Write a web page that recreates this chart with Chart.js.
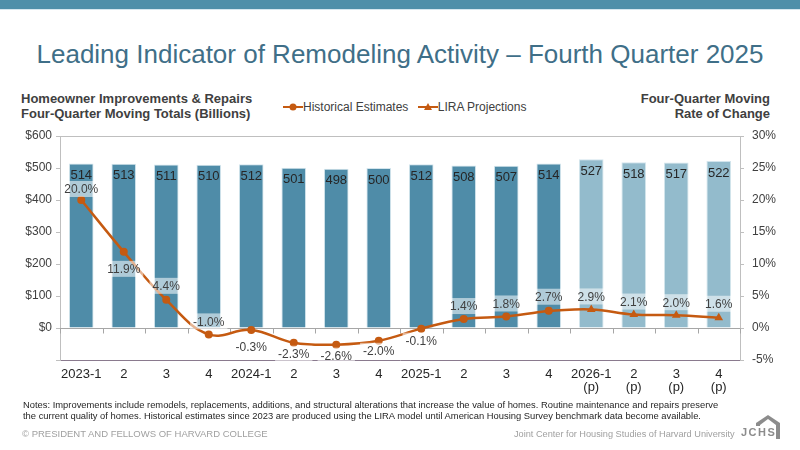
<!DOCTYPE html>
<html>
<head>
<meta charset="utf-8">
<script src="https://cdn.jsdelivr.net/npm/chart.js@4.4.1/dist/chart.umd.min.js"></script>
<style>
  body { margin: 0; width: 800px; height: 450px; background: #fff; font-family: "Liberation Sans", Arial, sans-serif; overflow: hidden; position: relative; }
  #topbar { position: absolute; left: 0; top: 0; width: 800px; height: 9px; background: #4f8fa9; border-bottom: 1px solid #d5e6ee; }
  #title { position: absolute; left: 0; top: 39px; width: 800px; text-align: center; font-size: 26px; color: #3f6f88; }
  .axtitle { position: absolute; top: 91px; font-size: 13px; font-weight: bold; color: #404040; line-height: 15px; }
  #legend { position: absolute; left: 283px; top: 100px; font-size: 12px; color: #404040; white-space: nowrap; }
  #legend svg { vertical-align: -1px; }
  #wrap { position: absolute; left: 0; top: 120px; width: 800px; height: 296px; }
  #notes { position: absolute; left: 23px; top: 399px; font-size: 9.4px; color: #262626; line-height: 11px; }
  #copy { position: absolute; left: 22px; top: 428px; font-size: 9.5px; color: #a0a0a0; }
  #jc { position: absolute; left: 514px; top: 429px; font-size: 9.2px; color: #a0a0a0; }
  #logo { position: absolute; left: 739px; top: 414px; }
</style>
</head>
<body>
<div id="topbar"></div>
<div id="title">Leading Indicator of Remodeling Activity – Fourth Quarter 2025</div>
<div class="axtitle" style="left:21px">Homeowner Improvements &amp; Repairs<br>Four-Quarter Moving Totals (Billions)</div>
<div class="axtitle" style="right:30px;text-align:right">Four-Quarter Moving<br>Rate of Change</div>
<div id="legend">
  <svg width="20" height="10"><line x1="0" y1="5" x2="20" y2="5" stroke="#c55a11" stroke-width="2"/><circle cx="10" cy="5" r="3.5" fill="#c55a11"/></svg>Historical Estimates
  <svg width="20" height="10" style="margin-left:6px"><line x1="0" y1="5" x2="20" y2="5" stroke="#c55a11" stroke-width="2"/><polygon points="10,1 14,8 6,8" fill="#c55a11"/></svg>LIRA Projections
</div>
<div id="wrap"><canvas id="chart"></canvas></div>
<div id="notes">Notes: Improvements include remodels, replacements, additions, and structural alterations that increase the value of homes. Routine maintenance and repairs preserve<br>the current quality of homes. Historical estimates since 2023 are produced using the LIRA model until American Housing Survey benchmark data become available.</div>
<div id="copy">© PRESIDENT AND FELLOWS OF HARVARD COLLEGE</div>
<div id="jc">Joint Center for Housing Studies of Harvard University</div>
<svg id="logo" width="44" height="26">
  <polygon points="17,9 29,1 41,9 41,25 37,25 37,11 29,5 21,11 21,12 17,12" fill="#8c8c8c"/>
  <text x="2" y="22" font-family="Liberation Sans, Arial" font-size="11" font-weight="bold" fill="#8c8c8c" letter-spacing="1.5">JCHS</text>
</svg>

<script>
const quarters = ['2023-1', '2', '3', '4', '2024-1', '2', '3', '4', '2025-1', '2', '3', '4',
  ['2026-1', '(p)'], ['2', '(p)'], ['3', '(p)'], ['4', '(p)']];
const spending = [514, 513, 511, 510, 512, 501, 498, 500, 512, 508, 507, 514, 527, 518, 517, 522];
const historical = [20.0, 11.9, 4.4, -1.0, -0.3, -2.3, -2.6, -2.0, -0.1, 1.4, 1.8, 2.7, null, null, null, null];
const projections = [null, null, null, null, null, null, null, null, null, null, null, 2.7, 2.9, 2.1, 2.0, 1.6];
const isProjection = [false, false, false, false, false, false, false, false, false, false, false, false, true, true, true, true];

const orange = '#c55a11';

// where each rate label sits relative to its point (px, negative = above)
const rateLabelOffset = [-11, 17, -14, -13, 17, 11, 11, 10, 12, -13, -13, -14, -13, -13, -13, -14];

const labelPlugin = {
  id: 'labels',
  beforeDatasetsDraw(chart) {
    const ctx = chart.ctx, a = chart.chartArea;
    const x = chart.scales.x, y = chart.scales.y;
    ctx.save();
    ctx.strokeStyle = '#bfbfbf';
    ctx.lineWidth = 1;
    ctx.beginPath();
    ctx.moveTo(a.left, a.top + 0.5);
    ctx.lineTo(a.right, a.top + 0.5);
    ctx.stroke();
    // zero line with ticks between quarters
    const y0 = Math.round(y.getPixelForValue(0)) + 0.5;
    const step = x.getPixelForValue(1) - x.getPixelForValue(0);
    ctx.strokeStyle = '#a6a6a6';
    ctx.beginPath();
    ctx.moveTo(a.left, y0);
    ctx.lineTo(a.right, y0);
    for (let i = 0; i <= quarters.length; i++) {
      const bx = Math.round(x.getPixelForValue(i) - step / 2) + 0.5;
      ctx.moveTo(bx, y0);
      ctx.lineTo(bx, y0 + 5);
    }
    ctx.stroke();
    ctx.restore();
  },
  afterDatasetsDraw(chart) {
    const ctx = chart.ctx;
    ctx.save();
    ctx.textAlign = 'center';
    ctx.textBaseline = 'middle';
    // bar values
    ctx.font = '13px "Liberation Sans", Arial';
    ctx.fillStyle = '#262626';
    chart.getDatasetMeta(0).data.forEach((bar, i) => {
      ctx.fillText(spending[i], bar.x, bar.y + 12);
    });
    // rate labels
    const histMeta = chart.getDatasetMeta(1).data;
    const projMeta = chart.getDatasetMeta(2).data;
    ctx.font = '12px "Liberation Sans", Arial';
    quarters.forEach((q, i) => {
      const v = historical[i] != null ? historical[i] : projections[i];
      const pt = historical[i] != null ? histMeta[i] : projMeta[i];
      const txt = v.toFixed(1) + '%';
      const w = ctx.measureText(txt).width + 6;
      const cy = pt.y + rateLabelOffset[i];
      ctx.fillStyle = 'rgba(255,255,255,0.55)';
      ctx.fillRect(pt.x - w / 2, cy - 8, w, 16);
      ctx.fillStyle = '#404040';
      ctx.fillText(txt, pt.x, cy + 1);
    });
    ctx.restore();
  }
};

Chart.defaults.font.family = '"Liberation Sans", Arial, sans-serif';
Chart.defaults.color = '#404040';

new Chart(document.getElementById('chart'), {
  type: 'bar',
  data: {
    labels: quarters,
    datasets: [
      {
        type: 'bar',
        data: spending,
        yAxisID: 'y',
        backgroundColor: isProjection.map(p => p ? '#93bbcc' : '#4f8ca8'),
        borderColor: '#d3e5ed',
        borderWidth: 1,
        categoryPercentage: 1,
        barPercentage: 0.58,
        order: 3
      },
      {
        type: 'line',
        data: historical,
        yAxisID: 'y1',
        borderColor: orange,
        backgroundColor: orange,
        borderWidth: 2.5,
        tension: 0.4,
        pointStyle: 'circle',
        pointRadius: 4,
        pointBorderWidth: 0,
        order: 1
      },
      {
        type: 'line',
        data: projections,
        yAxisID: 'y1',
        borderColor: orange,
        backgroundColor: orange,
        borderWidth: 2.5,
        tension: 0.4,
        pointStyle: 'triangle',
        pointRadius: projections.map((v, i) => isProjection[i] ? 5 : 0),
        pointBorderWidth: 0,
        order: 2
      }
    ]
  },
  options: {
    responsive: true,
    maintainAspectRatio: false,
    animation: false,
    layout: { padding: { top: 16, left: 0, right: 0, bottom: 0 } },
    plugins: { legend: { display: false }, tooltip: { enabled: false } },
    scales: {
      x: {
        grid: { display: false, drawTicks: false },
        border: { display: true, color: '#8a7a8e', width: 1 },
        ticks: { font: { size: 13, lineHeight: 1.0 }, color: '#262626', padding: 8, maxRotation: 0, autoSkip: false },
        afterFit: s => { s.height = 56; }
      },
      y: {
        position: 'left',
        min: -100, max: 600,
        ticks: { stepSize: 100, font: { size: 12 }, color: '#404040', padding: 4,
          callback: v => v < 0 ? '' : '$' + v },
        grid: { drawOnChartArea: false, drawTicks: true, tickLength: 4, color: '#bfbfbf' },
        border: { display: true, color: '#bfbfbf' },
        afterFit: s => { s.width = 60; }
      },
      y1: {
        position: 'right',
        min: -5, max: 30,
        ticks: { stepSize: 5, font: { size: 12 }, color: '#404040', padding: 8,
          callback: v => v + '%' },
        grid: { drawOnChartArea: false, drawTicks: true, tickLength: 4, color: '#bfbfbf' },
        border: { display: true, color: '#bfbfbf' },
        afterFit: s => { s.width = 60; }
      }
    }
  },
  plugins: [labelPlugin]
});
</script>
</body>
</html>
